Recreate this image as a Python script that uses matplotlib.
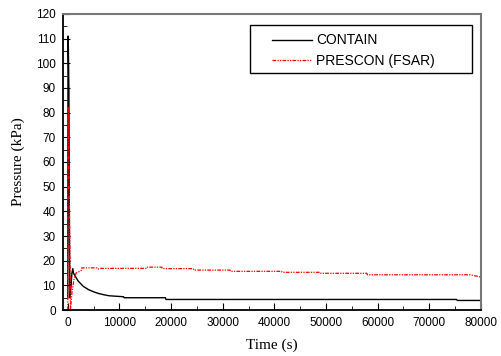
import matplotlib
matplotlib.use("Agg")
import matplotlib.pyplot as plt
from matplotlib.ticker import MultipleLocator
from matplotlib.patches import Rectangle

# CONTAIN result (black)
contain_t = [0, 40, 80, 150, 220, 300, 380, 450, 600, 800, 970, 1100, 1500, 2000, 3000,
             4000, 5000, 6000, 7000, 8000, 10800, 10900, 18900, 19000, 75300, 75400, 80000]
contain_p = [5, 111, 111, 100, 88, 40, 12, 5, 9, 15, 16.8, 15, 13.5, 11.8, 9.6,
             8.3, 7.4, 6.7, 6.2, 5.8, 5.4, 5.0, 5.0, 4.3, 4.3, 3.9, 3.9]

# PRESCON (FSAR) result (red)
prescon_t = [0, 60, 150, 300, 520, 800, 1200, 1600, 2600, 2700, 5600, 5800, 6400, 15300,
             15400, 18200, 18300, 24300, 24400, 31400, 31500, 41400, 41500, 48900, 49000,
             57900, 58000, 77900, 80000]
prescon_p = [0, 82, 80, 45, 0, 7, 12.5, 15, 16, 17.1, 17.1, 16.6, 16.9, 16.9,
             17.4, 17.4, 16.8, 16.8, 16.2, 16.2, 15.7, 15.7, 15.3, 15.3, 14.9,
             14.9, 14.3, 14.3, 13.4]

fig = plt.figure(figsize=(5.01, 3.56), dpi=100)
ax = fig.add_axes([0.125, 0.129, 0.835, 0.832])

ax.plot(contain_t, contain_p, color="black", lw=1.0, label="CONTAIN")
ax.plot(prescon_t, prescon_p, color="red", lw=0.9, dashes=(3, 1, 1, 1, 1, 1),
        label="PRESCON (FSAR)")

ax.set_xlim(-1000, 80000)
ax.set_ylim(0, 120)
ax.xaxis.set_major_locator(MultipleLocator(10000))
ax.xaxis.set_minor_locator(MultipleLocator(5000))
ax.yaxis.set_major_locator(MultipleLocator(10))
ax.yaxis.set_minor_locator(MultipleLocator(5))
ax.tick_params(which="both", direction="in", top=False, right=False, labelsize=8.5)
ax.tick_params(which="major", length=5, pad=5)
ax.tick_params(which="minor", length=3)
for lab in ax.get_xticklabels() + ax.get_yticklabels():
    lab.set_family("Liberation Sans")

ax.spines["top"].set_color("#777777")
ax.spines["right"].set_color("#777777")
ax.spines["top"].set_linewidth(1.5)
ax.spines["right"].set_linewidth(1.5)
ax.spines["left"].set_linewidth(1.3)
ax.spines["bottom"].set_linewidth(1.3)

ax.set_xlabel("Time (s)", family="Liberation Serif", fontsize=11, labelpad=7)
ax.set_ylabel("Pressure (kPa)", family="Liberation Serif", fontsize=11, labelpad=8)

# legend frame drawn separately so entries can sit inset from its left edge
ax.add_patch(Rectangle((0.448, 0.80), 0.53, 0.163, transform=ax.transAxes,
                       fill=True, facecolor="white", edgecolor="black", lw=1.0,
                       zorder=4))
leg = ax.legend(loc="upper left", bbox_to_anchor=(0.49, 0.948), frameon=False,
                borderaxespad=0, handlelength=2.9, handletextpad=0.3,
                borderpad=0.3, labelspacing=0.45,
                prop={"family": "Liberation Sans", "size": 10})
leg.set_zorder(5)

fig.savefig("out.png", dpi=100)
